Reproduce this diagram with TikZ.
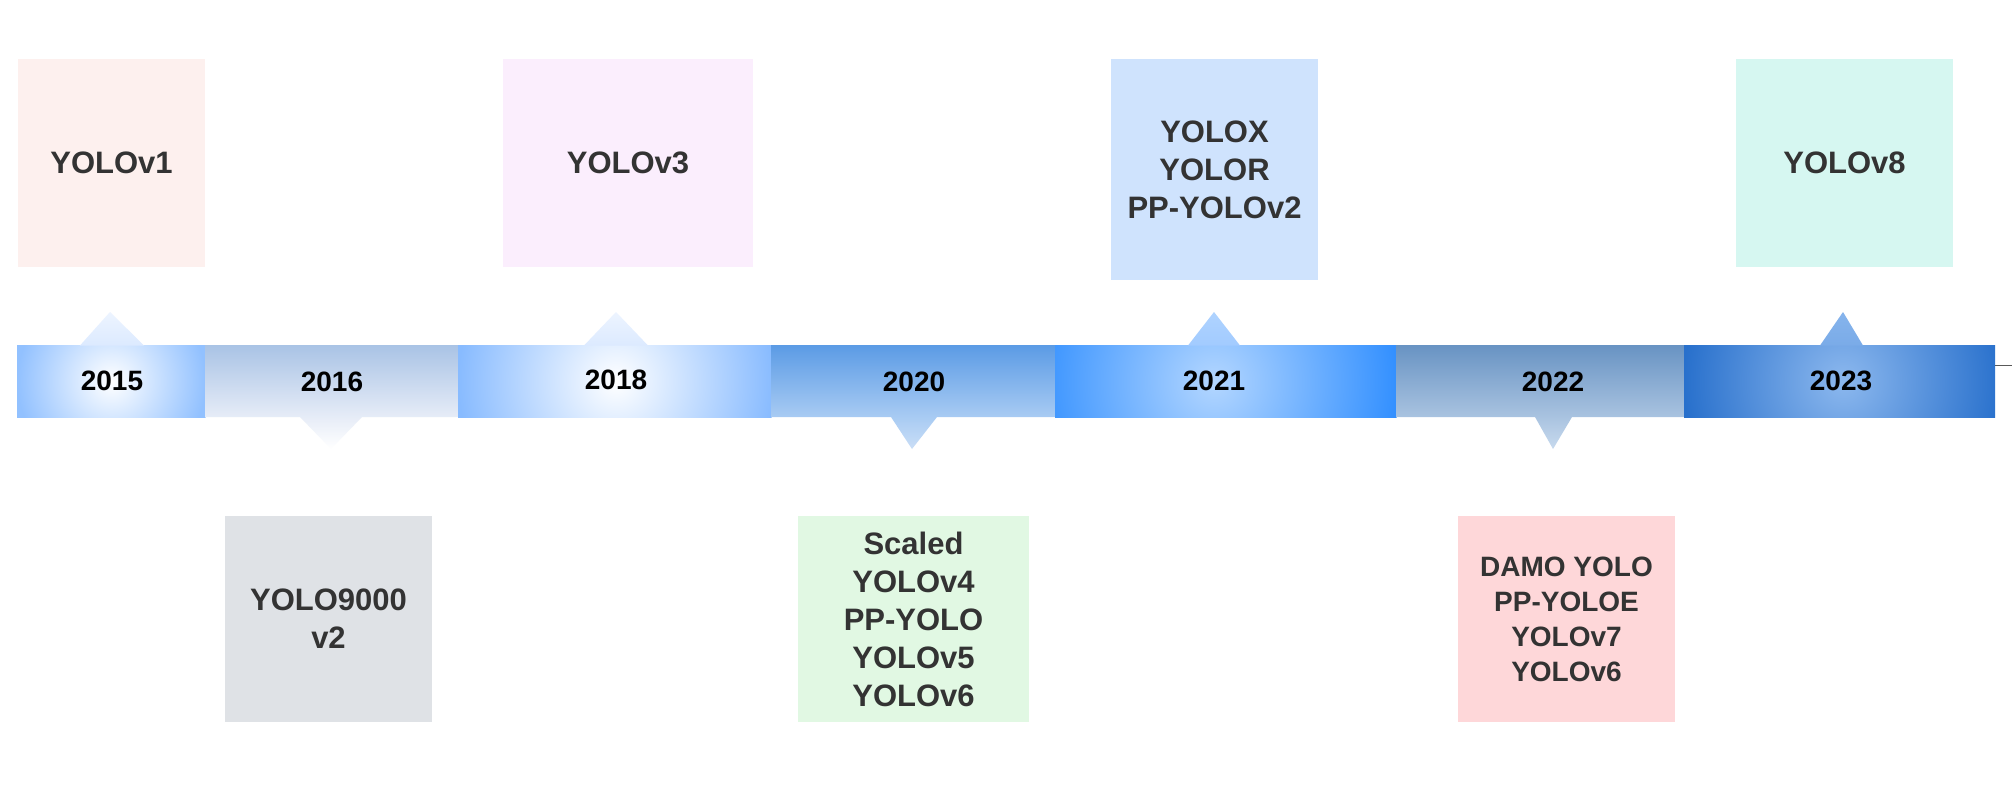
\documentclass[tikz,border=0pt]{standalone}
\usepackage{fontspec}
\setmainfont{Liberation Sans}
\definecolor{txt}{HTML}{333333}
\definecolor{cvone}{HTML}{FDF0EE}
\definecolor{cvthree}{HTML}{FBEEFD}
\definecolor{cvx}{HTML}{CFE3FD}
\definecolor{cveight}{HTML}{D6F7F1}
\definecolor{cnine}{HTML}{DFE2E6}
\definecolor{cscaled}{HTML}{E1F8E3}
\definecolor{cdamo}{HTML}{FED7D9}
\definecolor{sAt}{HTML}{A9C3E5}
\definecolor{sAm}{HTML}{E6ECF7}
\definecolor{sAb}{HTML}{FFFFFF}
\definecolor{sBt}{HTML}{5B9BE5}
\definecolor{sBm}{HTML}{A8CBF3}
\definecolor{sBb}{HTML}{CADEF6}
\definecolor{sCt}{HTML}{6893C3}
\definecolor{sCm}{HTML}{A9C3E0}
\definecolor{sCb}{HTML}{C8DAEE}
\definecolor{rA}{HTML}{92C1FF}
\definecolor{rB}{HTML}{88BBFF}
\definecolor{rCi}{HTML}{B3D6FF}
\definecolor{rCo}{HTML}{3390FF}
\definecolor{rDi}{HTML}{8CB8EE}
\definecolor{rDo}{HTML}{2870CC}
\definecolor{tA}{HTML}{EDF4FF}
\definecolor{tAb}{HTML}{DCEAFF}
\definecolor{tC}{HTML}{AFD3FF}
\definecolor{tCb}{HTML}{A2CBFF}
\definecolor{tD}{HTML}{86B4EC}
\definecolor{tDb}{HTML}{7AABE8}
\pgfdeclareverticalshading{shA}{100bp}{color(0bp)=(sAb); color(25bp)=(sAb); color(40.5bp)=(sAm); color(75bp)=(sAt); color(100bp)=(sAt)}
\pgfdeclareverticalshading{shB}{100bp}{color(0bp)=(sBb); color(25bp)=(sBb); color(40.5bp)=(sBm); color(75bp)=(sBt); color(100bp)=(sBt)}
\pgfdeclareverticalshading{shC}{100bp}{color(0bp)=(sCb); color(25bp)=(sCb); color(40.5bp)=(sCm); color(75bp)=(sCt); color(100bp)=(sCt)}
\begin{document}
\begin{tikzpicture}[x=1pt,y=-1pt,
  box/.style={inner sep=0pt, align=center, text=txt, draw=none,
    font=\bfseries\fontsize{31}{38}\selectfont},
  yearlbl/.style={inner sep=0pt, text=black, font=\bfseries\fontsize{28}{32}\selectfont}]
\useasboundingbox[fill=white] (0,0) rectangle (2012,794);

% 2015
\begin{scope}
  \clip (17,345) rectangle (205.5,417);
  \shade[inner color=white, outer color=rA] (17,287) rectangle (205.5,475);
\end{scope}
\shade[top color=tA, bottom color=tAb] (80,345.5) -- (110,312) -- (144,345.5) -- cycle;
% 2016
\shade[shading=shA]
  (205,345) -- (458.5,345) -- (458.5,417) -- (362,417) -- (331,449) -- (300,417) -- (205,417) -- cycle;
% 2018
\begin{scope}
  \clip (458,345) rectangle (771.5,417);
  \shade[inner color=white, outer color=rB] (458,223) rectangle (774,539);
\end{scope}
\shade[top color=tA, bottom color=tAb] (584,345.5) -- (616,312) -- (648,345.5) -- cycle;
% 2020
\shade[shading=shB]
  (771,345) -- (1055.5,345) -- (1055.5,417) -- (937,417) -- (912,449) -- (891,417) -- (771,417) -- cycle;
% 2021
\begin{scope}
  \clip (1055,345) rectangle (1396.5,417);
  \shade[inner color=rCi, outer color=rCo] (1031,199) rectangle (1397,565);
\end{scope}
\shade[top color=tC, bottom color=tCb] (1188,345.5) -- (1214,312) -- (1240,345.5) -- cycle;
% 2022
\shade[shading=shC]
  (1396,345) -- (1684.5,345) -- (1684.5,417) -- (1572,417) -- (1553,449) -- (1535,417) -- (1396,417) -- cycle;
% 2023
\begin{scope}
  \clip (1684,345) rectangle (1995,417);
  \shade[inner color=rDi, outer color=rDo] (1683,221) rectangle (2003,541);
\end{scope}
\shade[top color=tD, bottom color=tDb] (1820,345.5) -- (1843,312) -- (1863,345.5) -- cycle;

\coordinate (tickA) at (1995,365);
\coordinate (tickB) at (2012,365);
\draw[gray!70!black, line width=1pt] (tickA) -- (tickB);

% year labels
\node[yearlbl] (y2015) at (112,381) {2015};
\node[yearlbl] (y2016) at (332,382) {2016};
\node[yearlbl] (y2018) at (616,380) {2018};
\node[yearlbl] (y2020) at (914,382) {2020};
\node[yearlbl] (y2021) at (1214,381) {2021};
\node[yearlbl] (y2022) at (1553,382) {2022};
\node[yearlbl] (y2023) at (1841,381) {2023};

% boxes
\node[box, fill=cvone, minimum width=187pt, minimum height=208pt] (v1) at (111.5,163) {YOLOv1};
\node[box, fill=cvthree, minimum width=250pt, minimum height=208pt] (v3) at (628,163) {YOLOv3};
\node[box, fill=cvx, minimum width=207pt, minimum height=221pt] (vx) at (1214.5,169.5) {YOLOX\\YOLOR\\PP-YOLOv2};
\node[box, fill=cveight, minimum width=217pt, minimum height=208pt] (v8) at (1844.5,163) {YOLOv8};
\node[box, fill=cnine, minimum width=207pt, minimum height=206pt] (v2) at (328.5,619) {YOLO9000\\v2};
\node[box, fill=cscaled, minimum width=231pt, minimum height=206pt] (v4) at (913.5,619) {Scaled\\YOLOv4\\PP-YOLO\\YOLOv5\\YOLOv6};
\node[box, fill=cdamo, minimum width=217pt, minimum height=206pt,
  font=\bfseries\fontsize{28}{35}\selectfont] (v7) at (1566.5,619) {DAMO YOLO\\PP-YOLOE\\YOLOv7\\YOLOv6};
\end{tikzpicture}
\end{document}
